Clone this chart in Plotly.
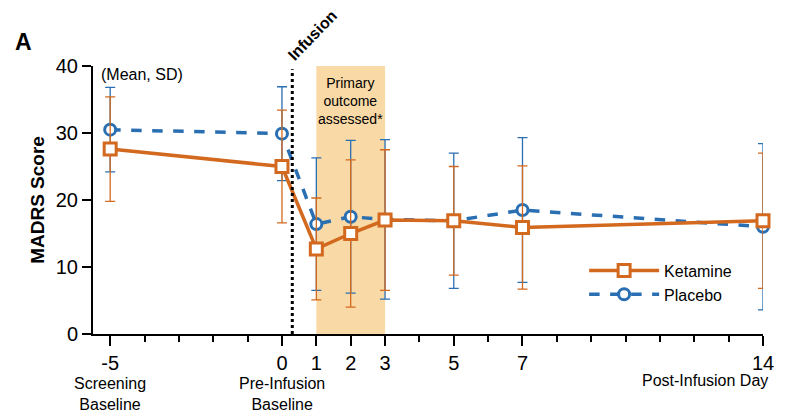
import plotly.graph_objects as go

days = [-5, 0, 1, 2, 3, 5, 7, 14]
ket_mean = [27.6, 25.0, 12.7, 15.0, 17.0, 16.9, 15.9, 16.9]
ket_sd = [7.8, 8.4, 7.6, 11.0, 10.5, 8.1, 9.2, 10.1]
pla_mean = [30.5, 29.9, 16.4, 17.5, 17.1, 16.9, 18.5, 16.0]
pla_sd = [6.3, 7.0, 9.9, 11.4, 11.9, 10.1, 10.8, 12.4]
tick_labels = ["-5", "0", "1", "2", "3", "5", "7", "14"]
y_ticks = [0, 10, 20, 30, 40]
infusion_x = 0.3
primary_window = [1, 3]

ORANGE = "#D2691E"
BLUE = "#2A6FB2"
FONT = "Liberation Sans, Arial, sans-serif"

fig = go.Figure()

fig.add_shape(type="rect", xref="x", yref="y", x0=primary_window[0], x1=primary_window[1],
              y0=0, y1=40, fillcolor="#F9D9A6", line_width=0, layer="below")
fig.add_shape(type="line", xref="x", yref="y", x0=infusion_x, x1=infusion_x, y0=0, y1=39.5,
              line=dict(color="black", width=3, dash="dot"))

fig.add_trace(go.Scatter(
    x=days, y=pla_mean, name="Placebo", mode="lines+markers",
    line=dict(color=BLUE, width=3.5, dash="dash"),
    marker=dict(symbol="circle", size=11, color="white", line=dict(color=BLUE, width=3)),
    error_y=dict(type="data", array=pla_sd, visible=True, color=BLUE, thickness=1.3, width=5),
    cliponaxis=False,
))
fig.add_trace(go.Scatter(
    x=days, y=ket_mean, name="Ketamine", mode="lines+markers",
    line=dict(color=ORANGE, width=3.5),
    marker=dict(symbol="square", size=12, color="white", line=dict(color=ORANGE, width=3)),
    error_y=dict(type="data", array=ket_sd, visible=True, color=ORANGE, thickness=1.3, width=5),
    cliponaxis=False,
))

# page has an 8px body margin, so the figure is 803x408 and placed at (8, 8)
fig.update_layout(
    width=803, height=408,
    margin=dict(l=85, r=48, t=58, b=82),
    paper_bgcolor="white", plot_bgcolor="white",
    font=dict(family=FONT, color="black"),
    showlegend=True,
    legend=dict(x=0.733, y=0.30, xanchor="left", yanchor="top", traceorder="reversed",
                font=dict(size=16, family=FONT), bgcolor="rgba(0,0,0,0)", itemwidth=70,
                tracegroupgap=0),
    xaxis=dict(range=[-5.5, 14], tickvals=days, ticktext=tick_labels, showline=True,
               linecolor="black", linewidth=2, ticks="outside", ticklen=10, tickwidth=2,
               tickcolor="black", tickfont=dict(size=20, family=FONT), showgrid=False,
               zeroline=False,
               minor=dict(tickvals=list(range(-5, 15)), ticks="outside", ticklen=6,
                          tickwidth=2, tickcolor="black", showgrid=False)),
    yaxis=dict(range=[0, 40], tickvals=y_ticks, showline=True, linecolor="black", linewidth=2,
               ticks="outside", ticklen=9, tickwidth=2, tickcolor="black",
               tickfont=dict(size=20, family=FONT), showgrid=False, zeroline=False,
               title=dict(text="<b>MADRS Score</b>", font=dict(size=19, family=FONT), standoff=6)),
)

def py(p):
    return (334.3 - p) / 268.3

def px(p):
    return (p - 93) / 670

annos = [
    dict(text="<b>A</b>", xref="paper", yref="paper", x=px(23), y=py(42), font=dict(size=23)),
    dict(text="<b>Infusion</b>", xref="paper", yref="paper", x=px(312), y=py(35),
         textangle=-46, font=dict(size=16)),
    dict(text="(Mean, SD)", xref="paper", yref="paper", x=px(99), y=py(75),
         xanchor="left", font=dict(size=16)),
    dict(text="Primary<br>outcome<br>assessed*", xref="x", yref="paper", x=2, y=py(101),
         font=dict(size=14)),
    dict(text="Screening<br>Baseline", xref="x", yref="paper", x=-5, y=py(394), font=dict(size=16)),
    dict(text="Pre-Infusion<br>Baseline", xref="x", yref="paper", x=0, y=py(394), font=dict(size=16)),
    dict(text="Post-Infusion Day", xref="x", yref="paper", x=14, xanchor="right", xshift=7,
         y=py(381), font=dict(size=16)),
]
for a in annos:
    a.setdefault("xanchor", "center")
    a.setdefault("yanchor", "middle")
    a["showarrow"] = False
    a["font"]["family"] = FONT
    a["font"]["color"] = "black"
    fig.add_annotation(**a)

fig.write_html("out.html")
